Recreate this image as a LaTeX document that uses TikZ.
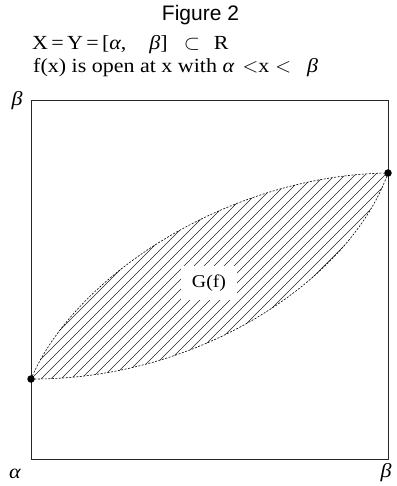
\documentclass[tikz,border=0pt]{standalone}
\usepackage{fontspec}
\setmainfont[FakeStretch=1.1]{Liberation Serif}
\newfontfamily\titlefont{Liberation Sans}
\tikzset{
  frameline/.style = {line width=0.8pt,black!85},
  edgecurve/.style = {dash pattern=on 2pt off 1.5pt,line width=0.6pt},
  hatchline/.style = {line width=0.6pt,black!85},
  endpt/.style     = {fill=black,circle,inner sep=0pt,minimum size=7.5pt},
  bigtxt/.style    = {font=\fontsize{20}{24}\selectfont},
  midtxt/.style    = {font=\fontsize{18}{22}\selectfont}
}

\begin{document}
\begin{tikzpicture}[x=1pt,y=-1pt]
  \useasboundingbox (0,0) rectangle (396,486);
  \node[font=\titlefont\fontsize{21}{25}\selectfont,anchor=base] (title) at (200.5,20.5) {Figure 2};
  \node[bigtxt,anchor=base west,inner sep=0pt] (setline) at (32,50)
       {X\,=\,Y\,=\,[\textit{α},\hspace{23pt}\textit{β}]\hspace{16pt}$\subset$\hspace{14pt}R};
  \node[bigtxt,anchor=base west,inner sep=0pt] (openline) at (33,73)
       {f(x) is open at x with \textit{α}\hspace{8pt}$<$x\hspace{6pt}$<$\hspace{16pt}\textit{β}};
  \draw[frameline] (31,100) rectangle (388,459);
  \coordinate (lo) at (31,379);
  \coordinate (hi) at (388,173);
  % hatched graph region
  \begin{scope}
    \clip (lo) .. controls (75,275) and (230,175) .. (hi)
              .. controls (350,280) and (200,380) .. (lo) -- cycle;
    \foreach \s in {-360,-350,...,390}
      \draw[hatchline] (\s,400) -- ++(300,-300);
  \end{scope}
  \draw[edgecurve] (lo) .. controls (75,275) and (230,175) .. (hi);
  \draw[edgecurve] (hi) .. controls (350,280) and (200,380) .. (lo);
  \node[midtxt,fill=white,minimum width=56pt,minimum height=34pt] (graph) at (209,283) {G(f)};
  \node[endpt] (lodot) at (lo) {};
  \node[endpt] (hidot) at (hi) {};
  \node[bigtxt] (ytop) at (17,101) {\textit{β}};
  \node[bigtxt] (xleft) at (15,474) {\textit{α}};
  \node[bigtxt] (xright) at (386,473) {\textit{β}};
\end{tikzpicture}
\end{document}
